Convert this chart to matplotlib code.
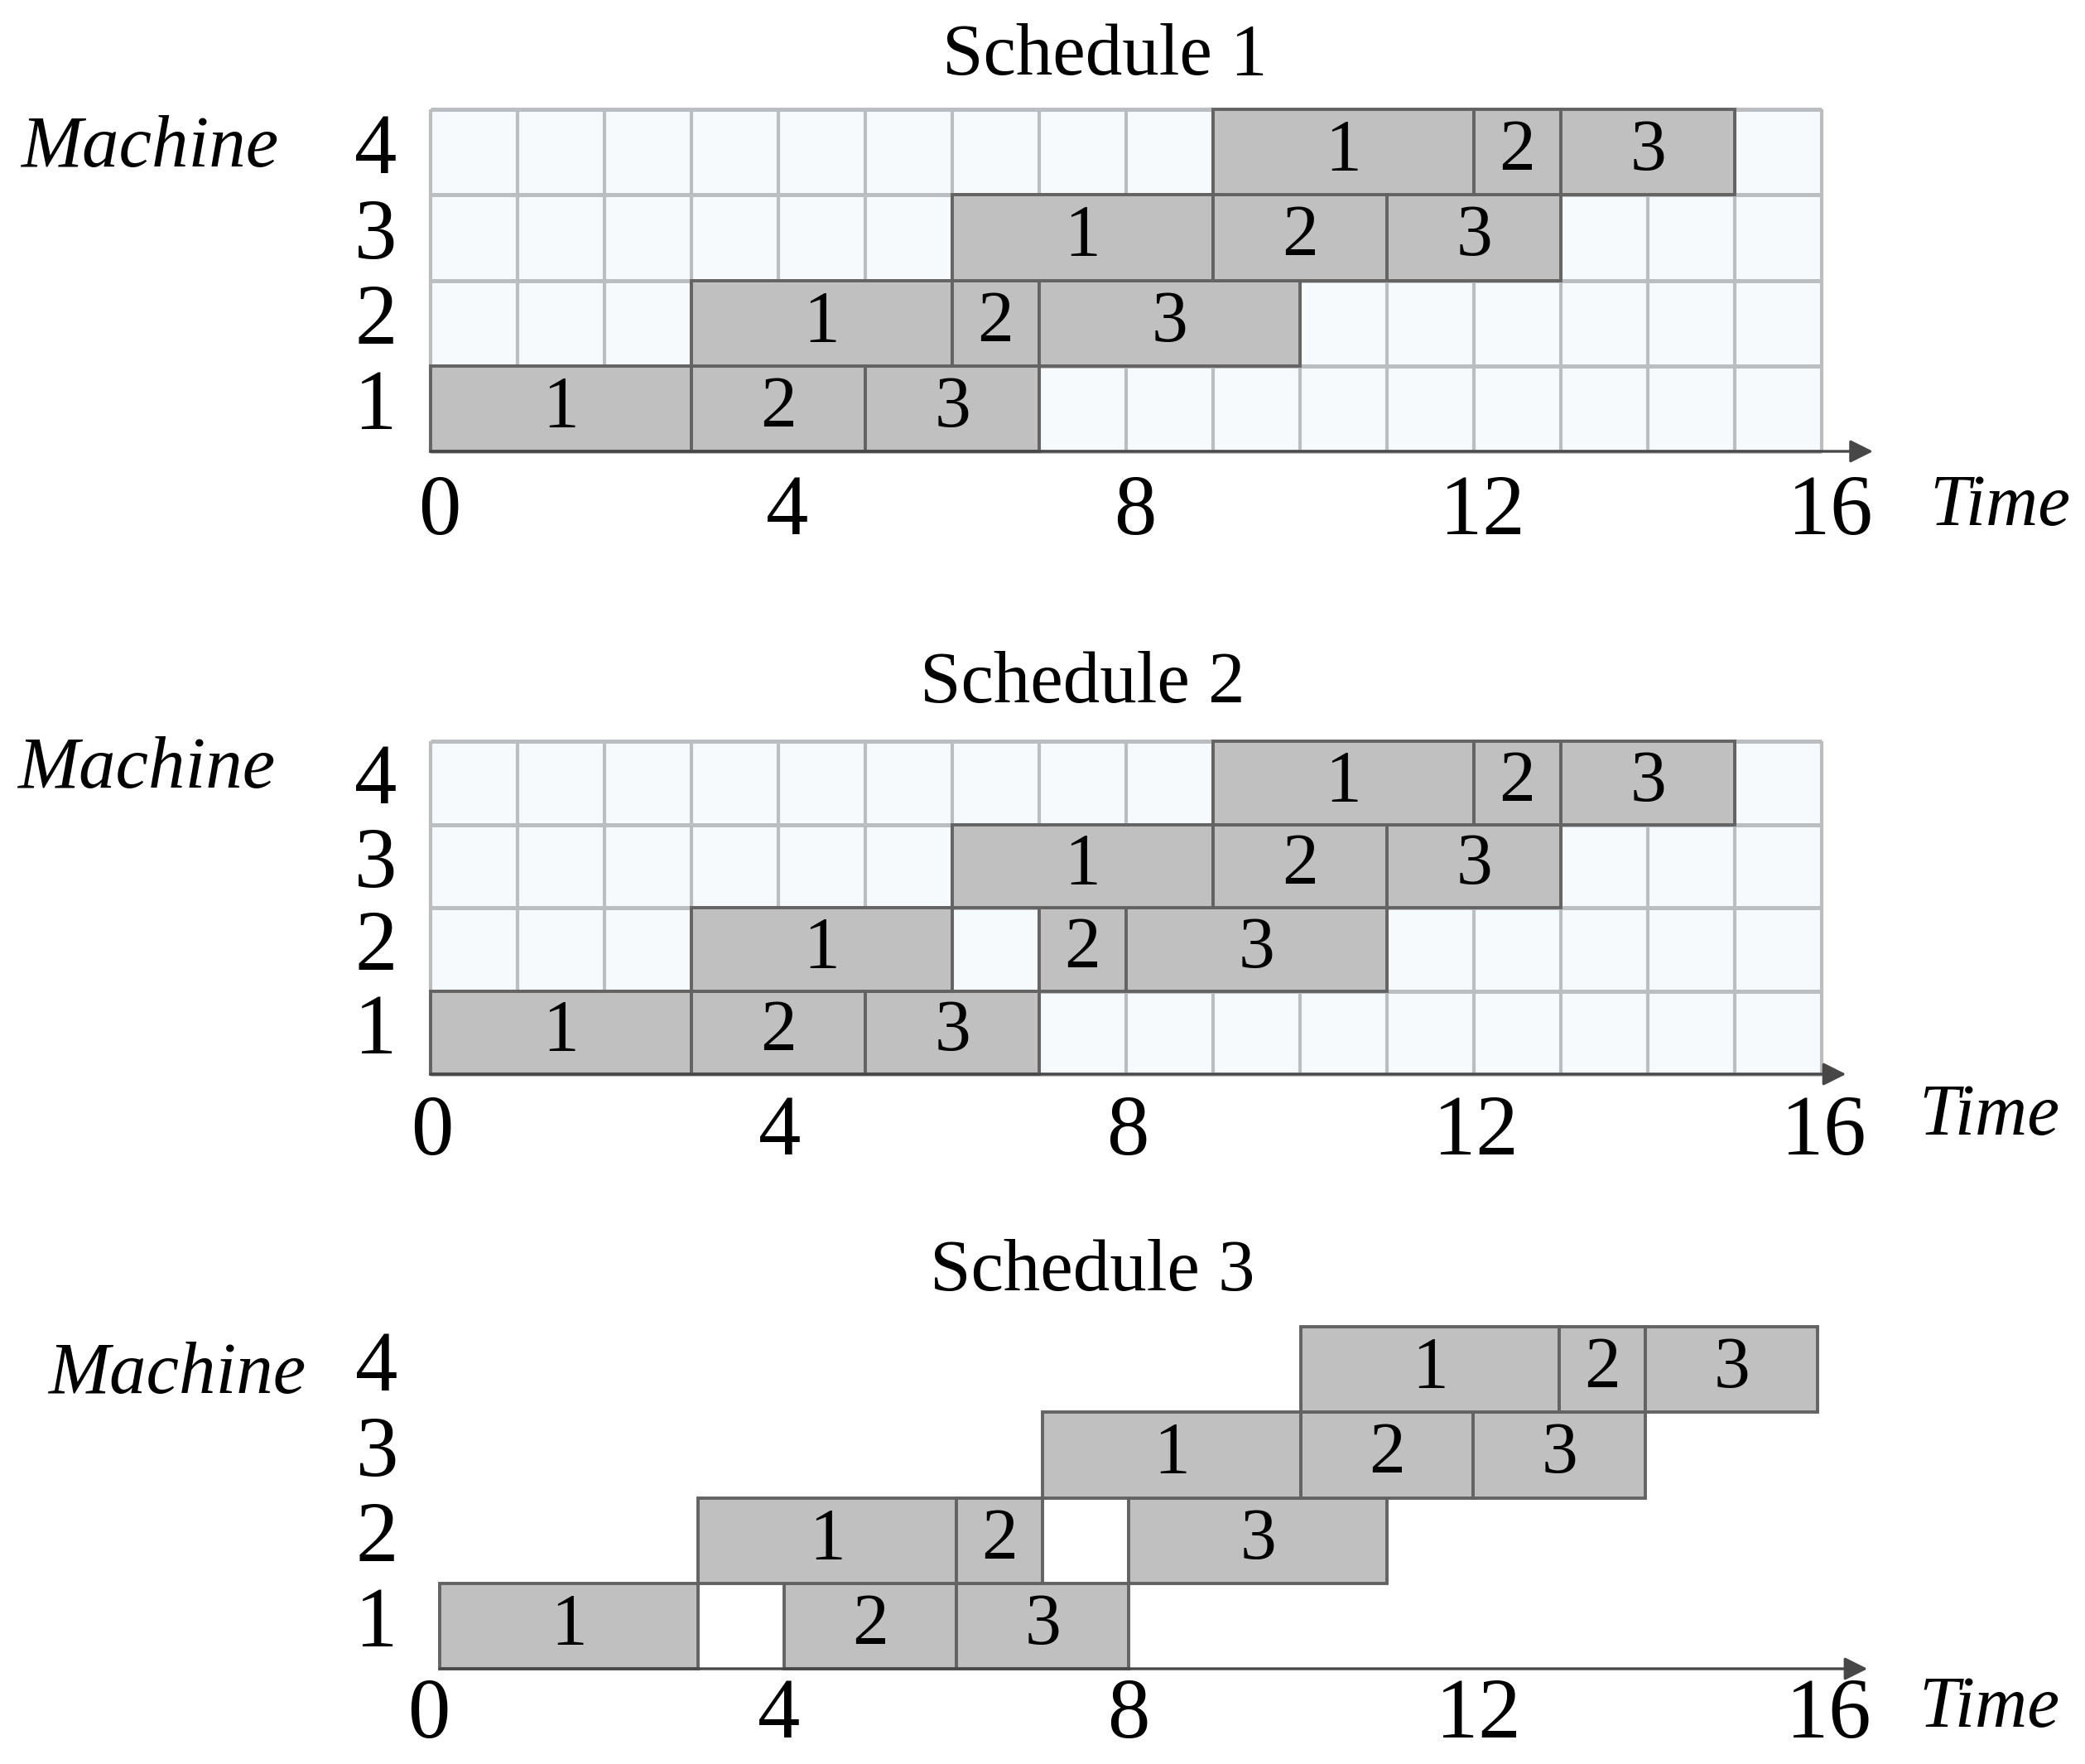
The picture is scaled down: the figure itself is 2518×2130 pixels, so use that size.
import matplotlib
matplotlib.use("Agg")
import matplotlib.pyplot as plt

plt.rcParams['font.family'] = ['Liberation Serif', 'DejaVu Serif']

# ---------------- data ----------------
schedule_titles = ["Schedule 1", "Schedule 2", "Schedule 3"]
machine_labels = ["1", "2", "3", "4"]
job_labels = ["1", "2", "3"]
time_ticks = [0, 4, 8, 12, 16]

# processing time of job j on machine m  (rows: machine 1..4, cols: job 1..3)
proc_time = [[3, 2, 2],
             [3, 1, 3],
             [3, 2, 2],
             [3, 1, 2]]

# start times (rows: machine 1..4, cols: job 1..3)
sched1_start = [[0, 3, 5],
                [3, 6, 7],
                [6, 9, 11],
                [9, 12, 13]]
sched2_start = [[0, 3, 5],
                [3, 7, 8],
                [6, 9, 11],
                [9, 12, 13]]
sched3_start = [[0, 4, 6],
                [3, 6, 8],
                [7, 10, 12],
                [10, 13, 14]]
schedules = [sched1_start, sched2_start, sched3_start]

# ---------------- style / layout ----------------
W, H = 2518, 2130
DPI = 100
fig = plt.figure(figsize=(W / DPI, H / DPI), dpi=DPI)
fig.patch.set_facecolor("white")

panel_left = [520, 520, 531]
panel_top = [132, 895, 1602]
panel_bottom = [545, 1297, 2015]
panel_width = [1680, 1680, 1664]
has_grid = [True, True, False]
arrow_tip = [16.59, 16.28, 16.58]
tick_shift = [0.1, 0.02, -0.125]
tick_scale = [1.0, 1.0, 1.0156]
tick_base = [-0.97, -0.97, -0.80]
ylab_x = [-0.63, -0.63, -0.73]
mach_xy = [(-4.71, 3.33), (-4.75, 3.44), (-4.55, 3.23)]
time_xy = [(17.24, -0.86), (17.12, -0.73), (17.18, -0.68)]
title_xy = [(5.89, 4.41), (5.63, 4.47), (5.69, 4.43)]

BAR_FACE = "#C0C0C0"
BAR_EDGE = "#636363"
GRID_FACE = "#F6FAFD"
GRID_LINE = "#BABEC1"
AXIS_COL = "#474747"

for p in range(3):
    l = panel_left[p] / W
    b = 1 - panel_bottom[p] / H
    w = panel_width[p] / W
    h = (panel_bottom[p] - panel_top[p]) / H
    ax = fig.add_axes([l, b, w, h])
    ax.set_xlim(0, 16)
    ax.set_ylim(0, 4)
    for s in ax.spines.values():
        s.set_visible(False)
    ax.set_xticks([])
    ax.set_yticks([])
    if has_grid[p]:
        ax.set_facecolor(GRID_FACE)
        ax.vlines(range(0, 17), 0, 4, color=GRID_LINE, lw=3.0, zorder=1, clip_on=False)
        ax.hlines(range(0, 5), 0, 16, color=GRID_LINE, lw=3.6, zorder=1, clip_on=False)
    else:
        ax.set_facecolor("none")

    starts = schedules[p]
    for m in range(4):
        ax.barh([m + 0.5] * 3, proc_time[m], left=starts[m], height=1.0,
                color=BAR_FACE, edgecolor=BAR_EDGE, linewidth=2.8,
                zorder=3, clip_on=False)
        for j in range(3):
            cx = starts[m][j] + proc_time[m][j] / 2
            ax.text(cx, m + 0.5, job_labels[j], ha="center", va="center",
                    fontsize=63, color="black", zorder=4)

    # time axis with arrow
    ax.annotate("", xy=(arrow_tip[p], 0), xytext=(0, 0),
                arrowprops=dict(arrowstyle="-|>", color=AXIS_COL, lw=2.4,
                                mutation_scale=42, shrinkA=0, shrinkB=0),
                annotation_clip=False, zorder=5)

    # tick labels
    for t in time_ticks:
        ax.text(t * tick_scale[p] + tick_shift[p], tick_base[p], str(t),
                ha="center", va="baseline", fontsize=74)
    for m in range(4):
        ax.text(ylab_x[p], m + 0.5, machine_labels[m], ha="center",
                va="center", fontsize=74)

    ax.text(mach_xy[p][0], mach_xy[p][1], "Machine", ha="left",
            va="baseline", fontsize=64, style="italic")
    ax.text(time_xy[p][0], time_xy[p][1], "Time", ha="left",
            va="baseline", fontsize=63, style="italic")
    ax.text(title_xy[p][0], title_xy[p][1], schedule_titles[p], ha="left",
            va="baseline", fontsize=64)

fig.savefig("out.png", dpi=DPI, facecolor="white")
